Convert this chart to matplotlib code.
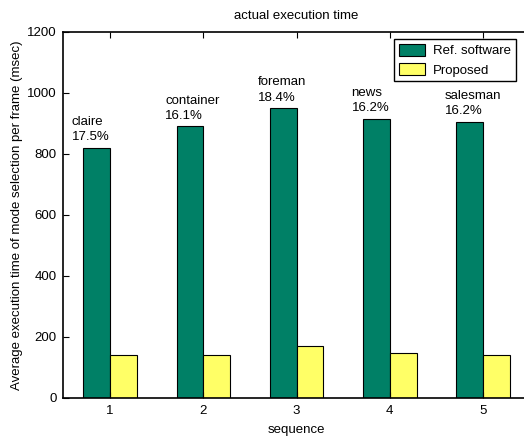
import numpy as np
import matplotlib
matplotlib.use("Agg")
import matplotlib.pyplot as plt

plt.rcParams['font.family'] = ['Liberation Sans', 'DejaVu Sans']

seq = [1, 2, 3, 4, 5]
names = ["claire", "container", "foreman", "news", "salesman"]
ratios = ["17.5%", "16.1%", "18.4%", "16.2%", "16.2%"]
ref_sw = [820, 890, 950, 915, 905]
proposed = [141, 141, 170, 147, 141]

fig = plt.figure(figsize=(5.24, 4.38), dpi=100)
ax = fig.add_axes([0.121, 0.092, 0.89, 0.835])

x = np.array(seq)
w = 0.286
ax.bar(x - w / 2, ref_sw, w, color="#008066", edgecolor="black", linewidth=0.8, label="Ref. software")
ax.bar(x + w / 2, proposed, w, color="#ffff66", edgecolor="black", linewidth=0.8, label="Proposed")

for i in range(len(seq)):
    ax.text(x[i] - 0.41, ref_sw[i] + 15, names[i] + "\n" + ratios[i],
            ha="left", va="bottom", fontsize=9.5, linespacing=1.35)

ax.set_xlim(0.5, 5.5)
ax.set_ylim(0, 1200)
ax.set_xticks(seq)
ax.set_yticks(range(0, 1201, 200))
ax.tick_params(direction="in", top=True, right=True, labelsize=9.5, length=4, width=0.8, pad=5)
for s in ax.spines.values():
    s.set_linewidth(1.2)

ax.set_title("actual execution time", fontsize=9.5, pad=9)
ax.set_xlabel("sequence", fontsize=9.5, labelpad=5)
ax.set_ylabel("Average execution time of mode selection per frame (msec)", fontsize=9.5, labelpad=3)

leg = ax.legend(loc="upper right", fontsize=9.5, fancybox=False, edgecolor="black",
                framealpha=1, borderaxespad=0.55, handlelength=2.0, handleheight=1.0,
                borderpad=0.35, labelspacing=0.45, handletextpad=0.6,
                bbox_to_anchor=(0.985, 1.0))
leg.get_frame().set_linewidth(1.0)

plt.savefig("out.png", dpi=100)
